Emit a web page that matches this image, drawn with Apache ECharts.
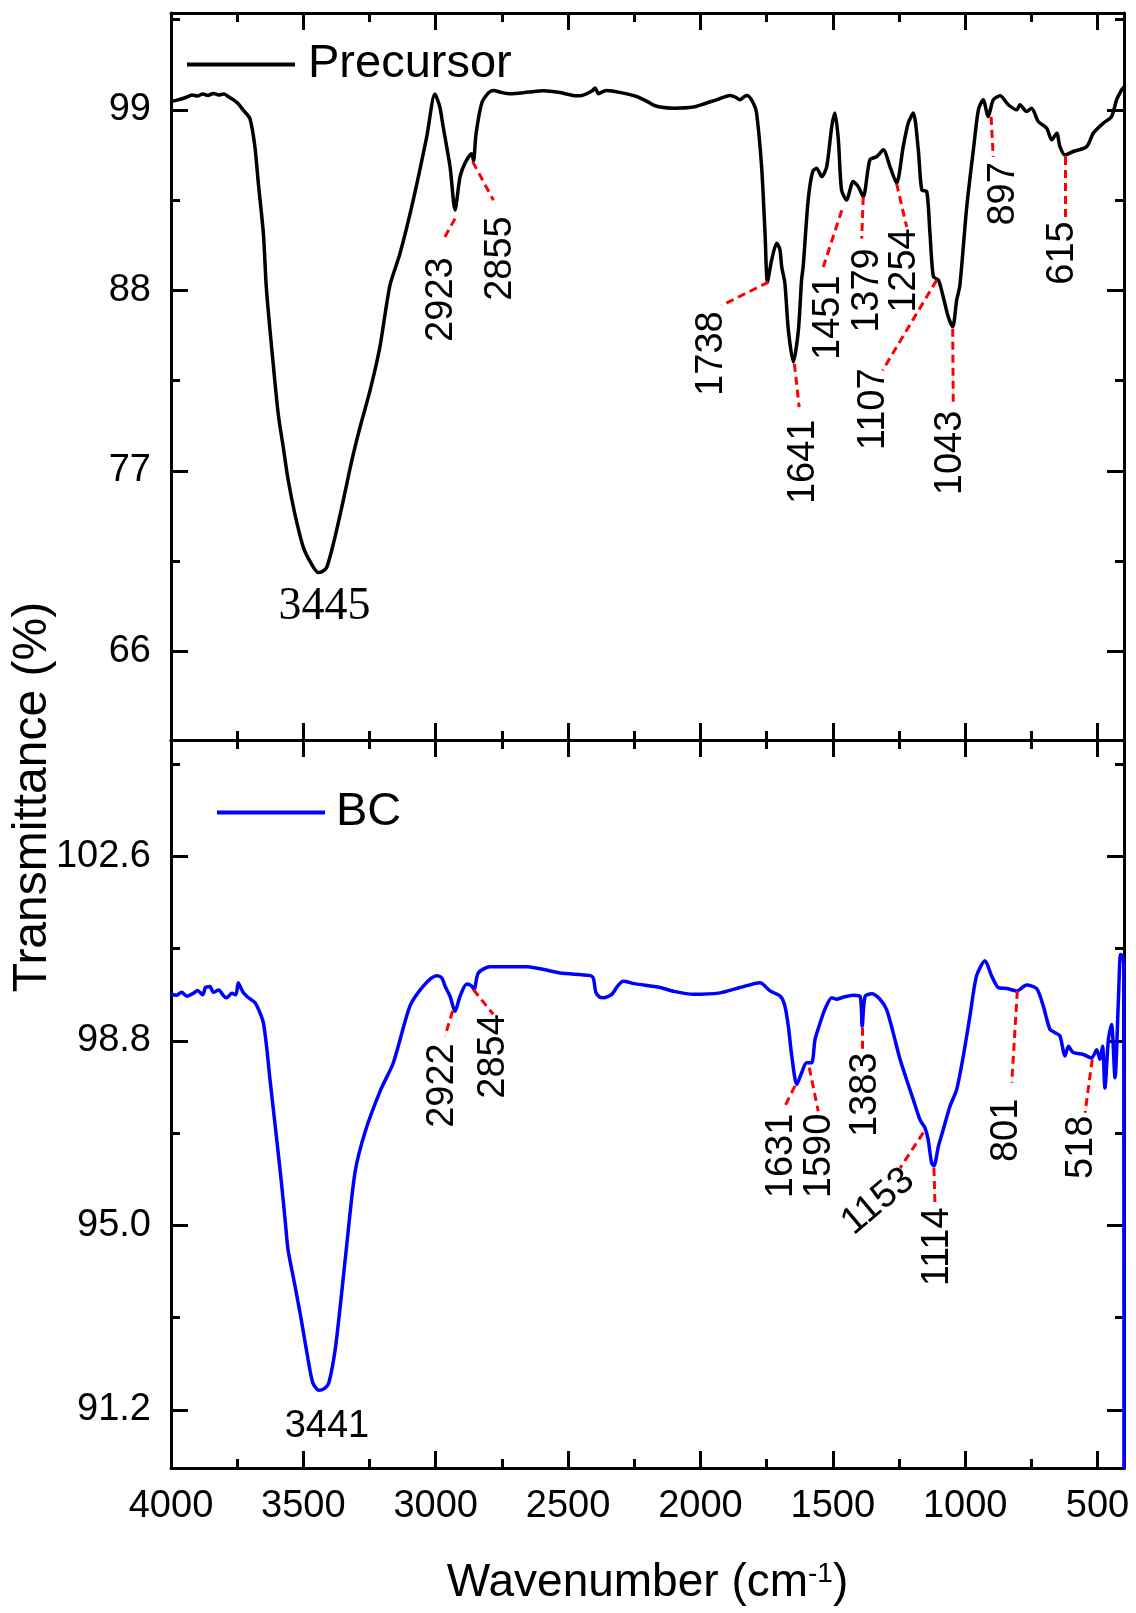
<!DOCTYPE html>
<html>
<head>
<meta charset="utf-8">
<title>FTIR spectra – Precursor and BC</title>
<script src="https://cdn.jsdelivr.net/npm/echarts@6/dist/echarts.min.js"></script>
<style>
  html, body { margin: 0; padding: 0; background: #fff; }
  #chart { width: 1136px; height: 1613px; }
</style>
</head>
<body>
<div id="chart"></div>
<script>
// Precursor spectrum
const precursorWavenumber = [
  4000, 3970, 3940, 3920, 3900, 3880, 3860, 3840, 3820, 3800, 3785, 3765, 3745, 3727, 3702, 3683,
  3670, 3651, 3640, 3620, 3595, 3576, 3557, 3532, 3500, 3469, 3444, 3430, 3412, 3387, 3355, 3317,
  3286, 3248, 3211, 3173, 3135, 3085, 3034, 3003, 2985, 2972, 2946, 2927, 2908, 2889, 2864, 2857,
  2848, 2826, 2800, 2782, 2750, 2719, 2650, 2594, 2530, 2467, 2443, 2410, 2398, 2385, 2370, 2354,
  2300, 2241, 2200, 2179, 2153, 2100, 2027, 1980, 1939, 1888, 1865, 1851, 1835, 1823, 1800, 1788,
  1769, 1756, 1747, 1731, 1712, 1700, 1693, 1681, 1668, 1649, 1630, 1618, 1612, 1593, 1576, 1561,
  1542, 1523, 1504, 1492, 1479, 1467, 1448, 1423, 1404, 1385, 1360, 1334, 1309, 1284, 1259, 1234,
  1215, 1196, 1177, 1164, 1145, 1133, 1120, 1101, 1083, 1064, 1047, 1032, 1020, 994, 969, 950,
  932, 913, 894, 868, 837, 805, 793, 768, 749, 724, 692, 673, 654, 642, 623, 592,
  541, 516, 478, 447, 428, 409, 400
];
const precursorTransmittance = [
  99.50, 99.62, 99.78, 99.90, 99.84, 99.96, 99.88, 100.00, 99.90, 99.96, 99.82, 99.62, 99.35, 98.98, 98.47, 96.74,
  94.51, 91.46, 88.20, 84.54, 80.47, 78.44, 76.41, 74.37, 72.34, 71.32, 70.81, 70.85, 71.11, 72.54, 74.78, 77.63,
  79.66, 81.90, 84.54, 88.30, 90.24, 93.50, 97.35, 99.96, 99.20, 97.98, 95.54, 92.90, 94.93, 95.77, 96.32, 95.90,
  97.50, 99.41, 100.05, 100.18, 100.05, 99.98, 100.08, 100.16, 100.05, 99.85, 99.90, 100.15, 100.33, 99.98, 100.10, 100.18,
  100.05, 99.81, 99.50, 99.30, 99.17, 99.10, 99.17, 99.40, 99.61, 99.87, 99.75, 99.61, 99.80, 99.87, 99.40, 98.80,
  95.54, 91.48, 88.52, 89.85, 90.87, 90.50, 89.44, 88.43, 85.58, 83.64, 85.58, 88.63, 89.44, 93.51, 95.24, 95.44,
  94.93, 95.54, 97.98, 98.80, 97.17, 94.12, 93.51, 94.63, 94.32, 93.71, 95.95, 96.15, 96.56, 95.54, 94.53, 96.76,
  98.19, 98.80, 96.56, 94.12, 94.02, 91.48, 88.83, 88.63, 87.61, 86.39, 85.78, 87.41, 88.30, 93.10, 96.56, 99.00,
  99.61, 98.59, 99.61, 99.85, 99.31, 99.00, 99.31, 98.90, 99.10, 98.29, 97.88, 97.17, 97.58, 96.76, 96.25, 96.46,
  96.76, 97.58, 98.19, 98.59, 99.61, 100.22, 100.40
];

// BC spectrum
const bcWavenumber = [
  4000, 3980, 3960, 3940, 3916, 3900, 3880, 3870, 3853, 3840, 3820, 3800, 3790, 3770, 3755, 3746,
  3735, 3725, 3714, 3700, 3683, 3664, 3651, 3639, 3626, 3607, 3584, 3569, 3558, 3534, 3510, 3482,
  3464, 3441, 3420, 3404, 3380, 3358, 3338, 3305, 3266, 3208, 3160, 3097, 3047, 2996, 2977, 2965,
  2946, 2927, 2908, 2883, 2864, 2855, 2839, 2795, 2656, 2531, 2420, 2405, 2395, 2380, 2367, 2335,
  2310, 2291, 2250, 2153, 2100, 2027, 1926, 1851, 1775, 1737, 1698, 1681, 1668, 1655, 1636, 1618,
  1599, 1580, 1567, 1548, 1530, 1504, 1485, 1467, 1445, 1423, 1397, 1389, 1378, 1353, 1322, 1297,
  1272, 1246, 1221, 1196, 1171, 1152, 1140, 1127, 1118, 1101, 1083, 1057, 1032, 1007, 982, 957,
  925, 900, 875, 843, 805, 768, 730, 705, 680, 661, 642, 623, 610, 592, 554, 522,
  503, 491, 481, 472, 459, 447, 434, 421, 413, 405, 401, 400
];
const bcTransmittance = [
  99.76, 99.74, 99.80, 99.72, 99.78, 99.84, 99.75, 99.90, 99.92, 99.80, 99.85, 99.72, 99.69, 99.78, 99.75, 100.00,
  99.88, 99.78, 99.72, 99.66, 99.59, 99.38, 99.17, 98.69, 98.00, 97.08, 95.94, 95.12, 94.50, 93.82, 93.12, 92.23,
  91.75, 91.60, 91.64, 91.75, 92.43, 93.47, 94.50, 96.09, 96.94, 97.79, 98.35, 99.52, 99.93, 100.14, 100.10, 99.93,
  99.72, 99.41, 99.72, 99.97, 99.93, 99.86, 100.20, 100.33, 100.33, 100.20, 100.15, 100.10, 99.80, 99.70, 99.69, 99.76,
  99.95, 100.03, 99.98, 99.90, 99.82, 99.76, 99.79, 99.90, 100.00, 99.83, 99.72, 99.52, 99.10, 98.49, 97.90, 98.14,
  98.35, 98.35, 98.83, 99.17, 99.45, 99.69, 99.66, 99.69, 99.72, 99.74, 99.72, 99.10, 99.72, 99.77, 99.66, 99.45,
  98.97, 98.42, 98.00, 97.59, 97.18, 97.01, 96.77, 96.29, 96.22, 96.63, 96.97, 97.46, 97.80, 98.49, 99.31, 100.14,
  100.45, 100.14, 99.90, 99.88, 99.83, 99.95, 99.88, 99.52, 99.04, 98.97, 98.90, 98.49, 98.69, 98.56, 98.52, 98.45,
  98.62, 98.42, 98.69, 97.83, 98.83, 99.14, 98.04, 99.66, 100.58, 100.55, 100.40, 85.00
];

// axis ticks
const wavenumberTicks = [4000, 3500, 3000, 2500, 2000, 1500, 1000, 500];
const wavenumberMinorTicks = [3750, 3250, 2750, 2250, 1750, 1250, 750];
const precursorTicks = [66, 77, 88, 99];
const precursorMinorTicks = [71.5, 82.5, 93.5, 104.5];
const bcTicks = [91.2, 95.0, 98.8, 102.6];
const bcMinorTicks = [93.1, 96.9, 100.7, 104.5];

// band positions written on the plot
const precursorPeaks = ['3445', '2923', '2855', '1738', '1641', '1451', '1379', '1254', '1107', '1043', '897', '615'];
const bcPeaks = ['3441', '2922', '2854', '1631', '1590', '1383', '1153', '1114', '801', '518'];

// where each note sits: leader from -> to, text anchored at "at" (wavenumber, %T)
const precursorNoteLayout = {
  '3445': { at: [3420, 68.7], flat: true, serif: true },
  '2923': { from: [2927, 92.37], to: [2974, 91.01], at: [2980, 90.01] },
  '2855': { from: [2860, 95.83], to: [2782, 93.49], at: [2757, 92.51] },
  '1738': { from: [1743, 88.50], to: [1920, 87.08], at: [1958, 86.72] },
  '1641': { from: [1645, 83.52], to: [1627, 80.88], at: [1611, 80.13] },
  '1451': { from: [1466, 92.88], to: [1536, 89.42], at: [1518, 88.91] },
  '1379': { from: [1385, 93.69], to: [1391, 91.15], at: [1367, 90.56] },
  '1254': { from: [1259, 94.51], to: [1221, 91.86], at: [1231, 91.78] },
  '1107': { from: [1108, 88.61], to: [1312, 83.12], at: [1348, 83.24] },
  '1043': { from: [1047, 85.66], to: [1045, 80.98], at: [1057, 80.67] },
  '897':  { from: [902, 98.57], to: [894, 96.13], at: [857, 95.81] },
  '615':  { from: [623, 96.13], to: [623, 92.47], at: [634, 92.21] }
};
const bcNoteLayout = {
  '3441': { at: [3411, 90.85], flat: true },
  '2922': { from: [2936, 99.42], to: [2965, 98.90], at: [2973, 98.75] },
  '2854': { from: [2858, 99.86], to: [2783, 99.35], at: [2780, 99.35] },
  '1631': { from: [1643, 97.87], to: [1687, 97.39], at: [1694, 97.30] },
  '1590': { from: [1589, 98.25], to: [1555, 97.35], at: [1549, 97.30] },
  '1383': { from: [1387, 99.07], to: [1387, 98.56], at: [1375, 98.56] },
  '1153': { from: [1158, 96.91], to: [1246, 96.18], at: [1329, 95.49], tilt: 40 },
  '1114': { from: [1118, 96.18], to: [1114, 95.43], at: [1106, 95.37] },
  '801':  { from: [803, 99.83], to: [824, 97.94], at: [842, 97.61] },
  '518':  { from: [520, 98.42], to: [547, 97.32], at: [562, 97.26] }
};

const FONT = '"Liberation Sans", Arial, Helvetica, sans-serif';
const SERIF = '"Liberation Serif", "Times New Roman", serif';
const BLACK = '#000';

function pairs(xs, ys) {
  return xs.map((x, i) => [x, ys[i]]);
}

function tick(values, len) {
  return { inside: true, length: len, customValues: values, lineStyle: { color: BLACK, width: 3 } };
}
const lineOn = { onZero: false, lineStyle: { color: BLACK, width: 3 } };
const lineOff = { show: false, onZero: false };

// four x axes per panel: bottom/top, major/minor
function xAxisSet(grid, withLabels) {
  const base = { type: 'value', gridIndex: grid, min: 400, max: 4000, inverse: true, splitLine: { show: false } };
  const label = withLabels
    ? { customValues: wavenumberTicks, formatter: v => String(v), margin: 20, fontSize: 38, fontFamily: FONT, color: BLACK }
    : { show: false };
  return [
    Object.assign({}, base, { position: 'bottom', axisLine: lineOn, axisTick: tick(wavenumberTicks, 17), axisLabel: label }),
    Object.assign({}, base, { position: 'bottom', axisLine: lineOff, axisTick: tick(wavenumberMinorTicks, 9), axisLabel: { show: false } }),
    Object.assign({}, base, { position: 'top', axisLine: lineOn, axisTick: tick(wavenumberTicks, 17), axisLabel: { show: false } }),
    Object.assign({}, base, { position: 'top', axisLine: lineOff, axisTick: tick(wavenumberMinorTicks, 9), axisLabel: { show: false } })
  ];
}

// four y axes per panel: left/right, major/minor
function yAxisSet(grid, min, max, major, minor, fmt) {
  const base = { type: 'value', gridIndex: grid, min: min, max: max, splitLine: { show: false } };
  return [
    Object.assign({}, base, { position: 'left', axisLine: lineOn, axisTick: tick(major, 17),
      axisLabel: { customValues: major, formatter: fmt, margin: 20, fontSize: 38, fontFamily: FONT, color: BLACK } }),
    Object.assign({}, base, { position: 'left', axisLine: lineOff, axisTick: tick(minor, 9), axisLabel: { show: false } }),
    Object.assign({}, base, { position: 'right', axisLine: lineOn, axisTick: tick(major, 17), axisLabel: { show: false } }),
    Object.assign({}, base, { position: 'right', axisLine: lineOff, axisTick: tick(minor, 9), axisLabel: { show: false } })
  ];
}

function leaders(peaks, layout) {
  return peaks.filter(p => layout[p].from).map(p => [{ coord: layout[p].from }, { coord: layout[p].to }]);
}

function noteItems(peaks, layout) {
  return peaks.map(p => {
    const n = layout[p];
    let label;
    if (n.flat) {
      label = { rotate: 0, align: 'center', verticalAlign: 'middle',
        fontFamily: n.serif ? SERIF : FONT, fontSize: n.serif ? 46 : 38 };
    } else if (n.tilt) {
      label = { rotate: n.tilt, align: 'center', verticalAlign: 'middle' };
    } else {
      label = { rotate: 90, align: 'right', verticalAlign: 'middle' };
    }
    return { name: p, value: n.at, label: label };
  });
}

function noteSeries(xi, yi, peaks, layout) {
  return {
    type: 'scatter',
    xAxisIndex: xi,
    yAxisIndex: yi,
    symbolSize: 0,
    silent: true,
    itemStyle: { color: BLACK },
    label: {
      show: true, position: 'inside', formatter: '{b}', fontSize: 38, fontFamily: FONT,
      color: BLACK, opacity: 1, textBorderWidth: 0
    },
    data: noteItems(peaks, layout)
  };
}

function leaderLines(peaks, layout) {
  return {
    silent: true,
    symbol: ['none', 'none'],
    label: { show: false },
    lineStyle: { color: '#ff0000', type: [8, 5], width: 3 },
    emphasis: { disabled: true },
    data: leaders(peaks, layout)
  };
}

const xAxes = xAxisSet(0, false).concat(xAxisSet(1, true));
xAxes[4].name = 'Wavenumber (cm{sup|-1})';
xAxes[4].nameLocation = 'middle';
xAxes[4].nameGap = 92;
xAxes[4].nameTextStyle = {
  fontSize: 46, fontFamily: FONT, color: BLACK,
  rich: { sup: { fontSize: 28, fontFamily: FONT, color: BLACK, verticalAlign: 'top' } }
};

const yAxes = yAxisSet(0, 60.6, 104.9, precursorTicks, precursorMinorTicks, v => String(v))
  .concat(yAxisSet(1, 90, 105, bcTicks, bcMinorTicks, v => v.toFixed(1)));

const chart = echarts.init(document.getElementById('chart'), null, { renderer: 'canvas' });

chart.setOption({
  animation: false,
  backgroundColor: '#fff',
  grid: [
    { left: 171, top: 13, width: 953, height: 727 },
    { left: 171, top: 740, width: 953, height: 728 }
  ],
  legend: [
    {
      data: ['Precursor'], left: 187, top: 41, padding: 0, icon: 'rect', itemWidth: 108, itemHeight: 4,
      selectedMode: false,
      textStyle: { fontSize: 47, fontFamily: FONT, color: BLACK, padding: [0, 0, 0, 8] }
    },
    {
      data: ['BC'], left: 217, top: 789, padding: 0, icon: 'rect', itemWidth: 108, itemHeight: 4,
      selectedMode: false,
      textStyle: { fontSize: 47, fontFamily: FONT, color: BLACK, padding: [0, 0, 0, 6] }
    }
  ],
  xAxis: xAxes,
  yAxis: yAxes,
  graphic: [
    {
      type: 'text', x: 33, y: 797, rotation: Math.PI / 2, silent: true,
      style: {
        text: 'Transmittance (%)', font: '48px ' + FONT, fill: BLACK,
        align: 'center', verticalAlign: 'middle', textAlign: 'center', textVerticalAlign: 'middle'
      }
    }
  ],
  series: [
    {
      name: 'Precursor',
      type: 'line',
      xAxisIndex: 0,
      yAxisIndex: 0,
      symbol: 'none',
      smooth: 0.25,
      lineStyle: { color: BLACK, width: 3.5 },
      itemStyle: { color: BLACK },
      data: pairs(precursorWavenumber, precursorTransmittance),
      markLine: leaderLines(precursorPeaks, precursorNoteLayout)
    },
    {
      name: 'BC',
      type: 'line',
      xAxisIndex: 4,
      yAxisIndex: 4,
      symbol: 'none',
      smooth: 0.25,
      lineStyle: { color: '#0000ff', width: 3.5 },
      itemStyle: { color: '#0000ff' },
      data: pairs(bcWavenumber, bcTransmittance),
      markLine: leaderLines(bcPeaks, bcNoteLayout)
    },
    noteSeries(0, 0, precursorPeaks, precursorNoteLayout),
    noteSeries(4, 4, bcPeaks, bcNoteLayout)
  ]
});
</script>
</body>
</html>
